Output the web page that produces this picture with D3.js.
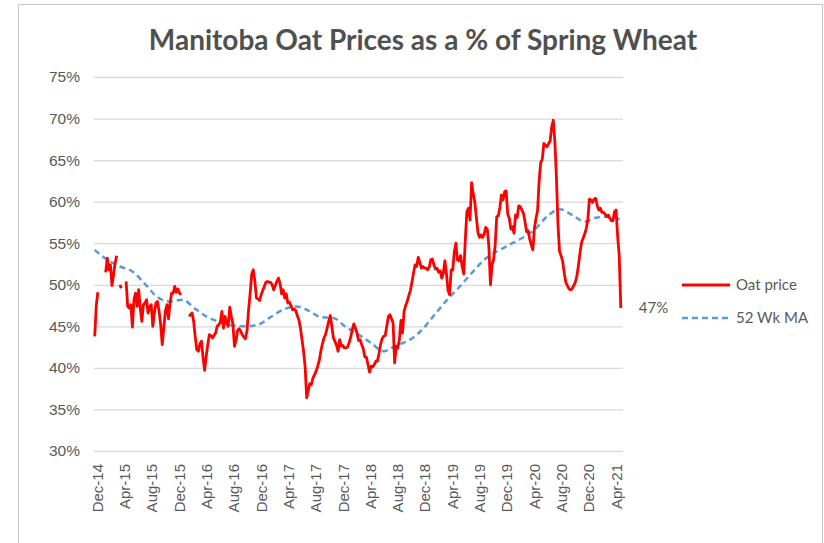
<!DOCTYPE html>
<html lang="en">
<head>
<meta charset="utf-8">
<title>Manitoba Oat Prices as a % of Spring Wheat</title>
<style>
    body { margin: 0; background: #fff; }
    svg { display: block; font-family: Lato, 'Open Sans', sans-serif; }
    .axis text { fill: #595959; }
    .y.axis text { font-size: 15.5px; }
    .x.axis text { font-size: 15px; }
    .axis .domain { display: none; }
    .y.axis line { stroke: #d9d9d9; stroke-width: 1.3px; }
    .title { fill: #505050; font-size: 28px; font-weight: bold; text-anchor: middle; }
    .legend text, .last-label { fill: #595959; font-size: 15px; }
</style>
</head>
<body>
<script src="https://d3js.org/d3.v7.min.js"></script>
<script>
    // weekly observations, first week ending 21 Nov 2014
    var firstWeek = "2014-11-21";

    // oat price as % of spring wheat, one value per week (null = no quote)
    var oatPrice = [
        43.8, 47.5, 49.1, null, null, null, null, 51.5, 53.2, 51.8,
        52.4, 49.9, 51.2, 52.6, 53.5, null, 50.0, 49.6, null, null,
        50.4, 47.4, 47.2, 47.6, 44.9, 48.2, 49.0, 47.4, 49.4, 47.2,
        45.6, 47.6, 47.8, 48.2, 46.6, 47.4, 47.6, 45.0, 46.6, 47.8,
        48.0, 46.8, 45.2, 42.8, 44.8, 46.8, 47.6, 45.9, 47.8, 49.0,
        49.0, 49.8, 49.1, 49.5, 49.0, 48.8, null, null, null, null,
        46.2, 46.4, 46.6, 45.6, 43.8, 42.2, 42.0, 42.9, 43.2, 41.2,
        39.7, 41.4, 42.8, 44.0, 43.9, 43.6, 43.9, 44.2, 45.0, 45.2,
        45.5, 46.8, 44.8, 46.2, 45.4, 45.0, 47.3, 46.2, 45.3, 42.6,
        43.3, 44.5, 44.7, 44.4, 44.0, 43.7, 43.5, 44.5, 47.0, 49.0,
        51.3, 51.8, 50.4, 48.4, 48.3, 48.1, 48.8, 49.3, 49.8, 50.3,
        50.4, 50.3, 50.3, 50.0, 49.4, 49.9, 50.4, 50.8, 50.2, 48.9,
        49.4, 48.4, 48.9, 47.8, 47.9, 47.5, 47.0, 47.1, 46.9, 46.3,
        45.8, 44.8, 43.4, 42.0, 40.1, 36.4, 37.3, 38.1, 38.0, 38.8,
        39.2, 39.6, 40.2, 40.9, 42.0, 42.9, 43.6, 44.0, 44.8, 45.6,
        46.3, 45.0, 43.6, 43.2, 42.7, 42.0, 43.4, 42.6, 42.7, 42.4,
        42.4, 42.5, 43.0, 43.7, 44.6, 45.3, 44.8, 44.2, 43.3, 43.4,
        42.8, 42.3, 41.3, 41.3, 40.4, 39.5, 40.2, 40.1, 40.4, 40.8,
        40.8, 41.7, 42.8, 43.5, 43.8, 43.9, 45.0, 46.2, 46.4, 45.9,
        45.4, 40.6, 42.6, 42.4, 43.4, 45.7, 44.2, 46.8, 47.5, 48.0,
        48.7, 49.3, 50.3, 51.4, 52.4, 52.2, 53.3, 52.7, 52.0, 52.2,
        52.0, 52.0, 51.8, 52.1, 53.0, 53.1, 52.4, 51.9, 52.0, 51.5,
        51.7, 50.8, 51.4, 52.9, 51.3, 49.3, 48.8, 51.8, 51.8, 54.0,
        55.0, 53.0, 52.9, 53.5, 52.2, 51.3, 55.5, 58.8, 59.2, 57.8,
        62.3, 61.0, 60.0, 58.2, 56.3, 55.7, 56.0, 55.7, 56.1, 56.9,
        56.7, 54.6, 50.0, 52.4, 53.0, 54.8, 58.2, 58.3, 59.3, 60.8,
        60.2, 61.2, 61.3, 58.5, 58.0, 56.7, 57.0, 56.2, 58.4, 58.1,
        59.5, 59.4, 59.0, 58.6, 57.6, 56.4, 56.5, 55.5, 54.8, 54.2,
        56.8, 58.0, 58.9, 62.5, 64.7, 65.1, 67.0, 66.8, 66.6, 67.0,
        67.3, 69.0, 69.8, 67.3, 63.0, 57.2, 54.0, 53.5, 52.8, 51.4,
        50.3, 49.9, 49.5, 49.4, 49.5, 49.9, 50.3, 51.0, 52.3, 53.8,
        55.1, 55.6, 56.1, 56.8, 57.8, 60.3, 60.2, 59.9, 60.3, 60.4,
        59.5, 59.0, 59.2, 58.7, 58.7, 58.5, 58.2, 58.4, 58.0, 57.7,
        57.7, 58.8, 59.0, 55.8, 53.5, 47.2
    ];

    // 52 week moving average, read at these week numbers
    var maWeek = [0, 8, 16, 24, 32, 40, 48, 56, 64, 72, 80, 88, 96, 104, 112, 120, 128, 136,
        144, 152, 160, 168, 176, 184, 192, 200, 208, 216, 224, 232, 240, 248, 256, 264, 272,
        280, 288, 296, 304, 312, 320, 328, 335];
    var maValue = [54.2, 53.0, 52.2, 51.6, 50.1, 48.5, 48.0, 48.2, 47.1, 46.1, 45.5, 45.1, 45.0,
        45.2, 46.1, 47.0, 47.4, 46.9, 46.1, 46.0, 44.9, 44.0, 43.0, 42.0, 42.7, 43.3, 44.5, 46.3,
        48.1, 49.7, 51.4, 53.0, 54.0, 54.8, 55.6, 56.6, 58.2, 59.1, 58.4, 57.6, 58.1, 58.2, 57.8];

    var xTickLabels = ["Dec-14", "Apr-15", "Aug-15", "Dec-15", "Apr-16", "Aug-16", "Dec-16",
        "Apr-17", "Aug-17", "Dec-17", "Apr-18", "Aug-18", "Dec-18", "Apr-19", "Aug-19",
        "Dec-19", "Apr-20", "Aug-20", "Dec-20", "Apr-21"];
    var yTicks = [30, 35, 40, 45, 50, 55, 60, 65, 70, 75];
    var seriesNames = ["Oat price", "52 Wk MA"];
    var lastLabel = "47%";

    var W = 824, H = 543;
    var plot = { left: 94, right: 623, top: 77, bottom: 451 };

    var start = d3.utcParse("%Y-%m-%d")(firstWeek);
    function weekDate(i) { return d3.utcDay.offset(start, 7 * i); }

    var oatData = oatPrice.map(function(v, i) { return { date: weekDate(i), v: v }; });
    var maData = maWeek.map(function(w, i) { return { date: weekDate(w), v: maValue[i] }; });
    var parseTick = d3.utcParse("%b-%y");
    var tickDates = xTickLabels.map(function(s) { return parseTick(s); });

    var x = d3.scaleUtc()
        .domain([oatData[0].date, oatData[oatData.length - 1].date])
        .range([94.7, 620.8]);
    var y = d3.scaleLinear().domain([30, 75]).range([plot.bottom, plot.top]);

    var svg = d3.select("body").append("svg")
        .attr("width", W)
        .attr("height", H);

    svg.append("rect")
        .attr("x", 18.5).attr("y", 4.5)
        .attr("width", 804).attr("height", 560)
        .attr("fill", "#fff")
        .attr("stroke", "#c8c8c8");

    svg.append("text")
        .attr("class", "title")
        .attr("x", 423)
        .attr("y", 50)
        .text("Manitoba Oat Prices as a % of Spring Wheat");

    // y axis with gridlines
    svg.append("g")
        .attr("class", "y axis")
        .attr("transform", "translate(" + plot.left + ",0)")
        .call(d3.axisLeft(y)
            .tickValues(yTicks)
            .tickFormat(function(d) { return d + "%"; })
            .tickSize(-(plot.right - plot.left))
            .tickPadding(14));

    // x axis, rotated labels
    var xg = svg.append("g")
        .attr("class", "x axis")
        .attr("transform", "translate(0," + plot.bottom + ")")
        .call(d3.axisBottom(x)
            .tickValues(tickDates)
            .tickFormat(d3.utcFormat("%b-%y"))
            .tickSize(0));
    xg.selectAll("text")
        .attr("transform", "rotate(-90)")
        .attr("x", -13)
        .attr("y", 0)
        .attr("dy", "0.35em")
        .style("text-anchor", "end");

    var line = d3.line()
        .defined(function(d) { return d.v != null; })
        .x(function(d) { return x(d.date); })
        .y(function(d) { return y(d.v); });

    var maLine = d3.line()
        .curve(d3.curveMonotoneX)
        .x(function(d) { return x(d.date); })
        .y(function(d) { return y(d.v); });

    svg.append("path")
        .datum(maData)
        .attr("d", maLine)
        .attr("fill", "none")
        .attr("stroke", "#5b9bd5")
        .attr("stroke-width", 2.5)
        .attr("stroke-dasharray", "6,4");

    svg.append("path")
        .datum(oatData)
        .attr("d", line)
        .attr("fill", "none")
        .attr("stroke", "#ff0000")
        .attr("stroke-width", 2.8)
        .attr("stroke-linejoin", "round");

    // label on the last point
    var last = oatData[oatData.length - 1];
    svg.append("text")
        .attr("class", "last-label")
        .attr("x", x(last.date) + 18)
        .attr("y", y(last.v) + 5)
        .text(lastLabel);

    // legend
    var legend = svg.append("g").attr("class", "legend");
    var legendY = [285, 318];
    legend.selectAll("line")
        .data(seriesNames)
        .enter().append("line")
        .attr("x1", 682).attr("x2", 730)
        .attr("y1", function(d, i) { return legendY[i]; })
        .attr("y2", function(d, i) { return legendY[i]; })
        .attr("stroke", function(d, i) { return i ? "#5b9bd5" : "#ff0000"; })
        .attr("stroke-width", function(d, i) { return i ? 2.5 : 2.8; })
        .attr("stroke-dasharray", function(d, i) { return i ? "6,4" : null; });
    legend.selectAll("text")
        .data(seriesNames)
        .enter().append("text")
        .attr("x", 736)
        .attr("y", function(d, i) { return legendY[i] + 5; })
        .text(function(d) { return d; });
</script>
</body>
</html>
